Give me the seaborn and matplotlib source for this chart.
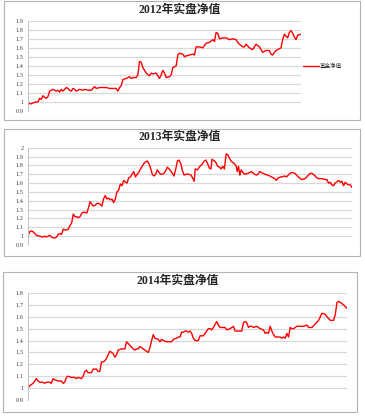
import numpy as np
import pandas as pd
import matplotlib
matplotlib.use("Agg")
import matplotlib.pyplot as plt
import seaborn as sns
from matplotlib.patches import Rectangle

# trading-day index and fund NAV
days_2012 = [0, 1, 2, 3, 5, 6, 7, 8, 9, 10,
             11, 12, 13, 14, 15, 17, 18, 19, 20, 21,
             23, 24, 25, 26, 27, 28, 29, 31, 33, 34,
             36, 38, 40, 41, 43, 45, 47, 49, 51, 53,
             54, 55, 56, 57, 59, 61, 62, 63, 65, 66,
             67, 68, 69, 70, 71, 73, 74, 75, 77, 79,
             80, 81, 82, 83, 85, 86, 87, 89, 90, 91,
             93, 94, 95, 97, 99, 100, 101, 103, 105, 107,
             109, 111, 112, 113, 114, 115, 117, 119, 121, 123,
             125, 126, 127, 129, 130, 131, 133, 135, 137, 139,
             140, 141, 143, 145, 146, 147, 148, 149, 151, 152,
             153, 154, 155, 156, 157, 158, 159, 160, 161, 162,
             164]
nav_2012 = [1.00, 0.98, 0.98, 0.99, 1.00, 1.00, 1.04, 1.03, 1.07, 1.05,
            1.04, 1.06, 1.12, 1.13, 1.14, 1.12, 1.13, 1.11, 1.14, 1.12,
            1.16, 1.15, 1.13, 1.12, 1.15, 1.14, 1.12, 1.14, 1.13, 1.14,
            1.13, 1.13, 1.17, 1.15, 1.16, 1.16, 1.16, 1.15, 1.15, 1.15,
            1.12, 1.16, 1.18, 1.25, 1.26, 1.28, 1.26, 1.27, 1.27, 1.30,
            1.45, 1.44, 1.38, 1.35, 1.32, 1.29, 1.32, 1.31, 1.32, 1.26,
            1.30, 1.35, 1.32, 1.27, 1.28, 1.30, 1.38, 1.40, 1.52, 1.54,
            1.53, 1.50, 1.51, 1.52, 1.53, 1.52, 1.61, 1.61, 1.60, 1.65,
            1.66, 1.69, 1.67, 1.77, 1.76, 1.70, 1.71, 1.71, 1.69, 1.70,
            1.69, 1.66, 1.64, 1.61, 1.61, 1.64, 1.60, 1.58, 1.64, 1.61,
            1.58, 1.55, 1.57, 1.57, 1.53, 1.52, 1.55, 1.57, 1.59, 1.60,
            1.69, 1.75, 1.73, 1.71, 1.77, 1.79, 1.76, 1.72, 1.69, 1.74,
            1.75]

days_2013 = ([0, 1, 2, 3, 4, 5, 7] + list(range(9, 100)) + [99.6]
             + list(range(101, 110)) + [109.6] + list(range(111, 125))
             + [124.6, 125.4, 126.2, 127, 128, 129, 131, 132, 133, 135,
                136, 137, 138, 139, 141, 143, 145, 147, 148, 149,
                151, 153, 154, 156, 157, 159, 161, 163, 165, 166,
                168, 169, 170, 172, 173, 175, 177, 178]
             + list(range(179, 184)) + list(range(185, 194)))
nav_2013 = [1.00, 1.05, 1.06, 1.05, 1.03, 1.01, 1.00,
            0.99, 1.00, 0.99, 1.00, 1.01, 0.99, 0.98, 0.98, 0.99, 1.02, 1.03, 1.02,
            1.08, 1.07, 1.07, 1.08, 1.12, 1.15, 1.25, 1.22, 1.22, 1.21,
            1.22, 1.26, 1.27, 1.27, 1.26, 1.32, 1.39, 1.36, 1.34, 1.35,
            1.37, 1.37, 1.36, 1.34, 1.42, 1.46, 1.42, 1.43, 1.41, 1.42,
            1.38, 1.42, 1.50, 1.52, 1.59, 1.57, 1.63, 1.61, 1.60, 1.66,
            1.67, 1.70, 1.73, 1.67, 1.70, 1.72, 1.76, 1.79, 1.82, 1.84,
            1.85, 1.82, 1.77, 1.70, 1.68, 1.70, 1.75, 1.72, 1.70, 1.70,
            1.71, 1.74, 1.78, 1.76, 1.74, 1.71, 1.68, 1.76, 1.85, 1.86,
            1.82, 1.74, 1.69, 1.70, 1.70, 1.70, 1.69, 1.66, 1.62,
            1.76,
            1.75, 1.78, 1.80, 1.82, 1.85, 1.86, 1.82, 1.77, 1.76,
            1.87,
            1.85, 1.83, 1.79, 1.78, 1.76, 1.79, 1.76, 1.93, 1.92, 1.88,
            1.85, 1.83, 1.82, 1.79,
            1.73, 1.79, 1.69, 1.75, 1.72, 1.70, 1.71, 1.72, 1.73, 1.70,
            1.69, 1.70, 1.73, 1.72, 1.70, 1.69, 1.67, 1.65, 1.63, 1.66,
            1.67, 1.68, 1.67, 1.71, 1.72, 1.71, 1.67, 1.64, 1.65, 1.67,
            1.71, 1.71, 1.70, 1.66, 1.65, 1.65, 1.64, 1.64,
            1.60, 1.61, 1.58, 1.57, 1.60,
            1.63, 1.61, 1.62, 1.57, 1.61, 1.59, 1.58, 1.58, 1.55]

days_2014 = [0, 1, 3, 4, 5, 6, 7, 9, 10, 11,
             13, 14, 15, 16, 18, 20, 21, 22, 23, 24,
             26, 28, 29, 30, 32, 33, 34, 35, 36, 38,
             39, 41, 42, 43, 44, 45, 46, 47, 49, 51,
             52, 53, 54, 56, 58, 59, 61, 63, 64, 65,
             66, 67, 69, 71, 72, 73, 74, 75, 76, 78,
             79, 80, 81, 83, 85, 86, 87, 89, 90, 91,
             92, 93, 94, 95, 96, 97, 98, 99, 100, 101,
             102, 103, 104, 105, 107, 108, 109, 110, 111, 113,
             114, 115, 117, 118, 119, 121, 123, 124, 125, 127,
             128, 129, 130, 131, 132, 133, 134, 135, 137, 138,
             139, 141, 142, 143, 144, 145, 146, 147, 148, 149,
             151, 152, 153, 154, 155, 156, 157, 158, 159, 161,
             163, 165, 167, 168, 170, 172, 174, 175, 176, 178,
             179, 181, 183, 184, 185, 186, 187, 189, 191]
nav_2014 = [1.00, 1.02, 1.04, 1.06, 1.08, 1.06, 1.05, 1.05, 1.04, 1.05,
            1.05, 1.04, 1.08, 1.07, 1.06, 1.06, 1.04, 1.05, 1.09, 1.10,
            1.09, 1.09, 1.08, 1.09, 1.08, 1.10, 1.14, 1.15, 1.13, 1.13,
            1.16, 1.16, 1.14, 1.14, 1.22, 1.22, 1.23, 1.25, 1.31, 1.29,
            1.26, 1.28, 1.32, 1.33, 1.33, 1.39, 1.36, 1.33, 1.32, 1.33,
            1.33, 1.35, 1.33, 1.31, 1.30, 1.34, 1.40, 1.45, 1.42, 1.41,
            1.39, 1.41, 1.40, 1.39, 1.39, 1.39, 1.41, 1.42, 1.43, 1.43,
            1.47, 1.47, 1.48, 1.48, 1.47, 1.48, 1.46, 1.42, 1.40, 1.40,
            1.40, 1.44, 1.44, 1.44, 1.48, 1.50, 1.50, 1.49, 1.51, 1.56,
            1.53, 1.51, 1.51, 1.51, 1.49, 1.50, 1.52, 1.48, 1.48, 1.48,
            1.48, 1.55, 1.56, 1.55, 1.51, 1.52, 1.52, 1.51, 1.52, 1.51,
            1.50, 1.49, 1.46, 1.47, 1.46, 1.52, 1.48, 1.45, 1.43, 1.43,
            1.43, 1.42, 1.43, 1.42, 1.46, 1.43, 1.51, 1.50, 1.50, 1.52,
            1.52, 1.52, 1.53, 1.51, 1.51, 1.54, 1.57, 1.60, 1.63, 1.62,
            1.60, 1.57, 1.57, 1.62, 1.72, 1.73, 1.72, 1.70, 1.67]

titles = ["2012年实盘净值", "2013年实盘净值", "2014年实盘净值"]
y_tops = [1.9, 2.0, 1.8]
legend_label = "基金净值"

sns.set_style("white")
plt.rcParams['font.family'] = ['Noto Sans CJK SC', 'DejaVu Sans']

W, H = 365, 417
fig = plt.figure(figsize=(W / 100, H / 100), dpi=100)


def px_rect(l, t, r, b):
    return [l / W, 1 - b / H, (r - l) / W, (b - t) / H]


# layout in pixels: axes box, outer frame, title centre
layout = [
    ((28, 20.7, 301, 111), (4, 1, 360, 120), (180, 10)),
    ((28, 147.7, 352, 245), (4, 129, 360, 256), (180, 137)),
    ((28, 293, 347, 400), (3, 272, 357, 412), (178, 281)),
]
series = [(days_2012, nav_2012), (days_2013, nav_2013), (days_2014, nav_2014)]

for i, ((days, nav), (axbox, frame, tpos)) in enumerate(zip(series, layout)):
    l, t, r, b = frame
    fig.patches.append(Rectangle((l / W, 1 - b / H), (r - l) / W, (b - t) / H,
                                 transform=fig.transFigure, fill=False,
                                 edgecolor="#b3b3b3", linewidth=0.8))
    ax = fig.add_axes(px_rect(*axbox))
    df = pd.DataFrame({"day": days, "nav": nav})
    ticks = np.round(np.arange(0.9, y_tops[i] + 0.001, 0.1), 1)
    for v in ticks[1:]:
        ax.axhline(v, color="#d9d9d9", linewidth=0.9, zorder=0)
    sns.lineplot(data=df, x="day", y="nav", ax=ax, color="#ff0000",
                 linewidth=1.0, estimator=None,
                 label=legend_label if i == 0 else None)
    ax.set_xlim(0, max(days))
    ax.set_ylim(0.9, y_tops[i])
    ax.set_yticks(ticks)
    ax.set_yticklabels([f"{v:g}" for v in ticks], fontsize=4.5, color="#404040",
                       family=["Liberation Serif", "DejaVu Serif"])
    ax.set_xticks([])
    ax.tick_params(axis="y", length=0, pad=3)
    ax.set_xlabel("")
    ax.set_ylabel("")
    for s in ["top", "right", "bottom"]:
        ax.spines[s].set_visible(False)
    ax.spines["left"].set_color("#bfbfbf")
    ax.spines["left"].set_linewidth(0.7)
    ax.set_facecolor("none")
    fig.text(tpos[0] / W, 1 - tpos[1] / H, titles[i], ha="center", va="center",
             fontsize=8.5, fontweight="bold", color="#262626",
             family=["Liberation Serif", "Noto Sans CJK SC"])
    if i == 0:
        ax.legend(loc="center left", bbox_to_anchor=(303 / W, 1 - 66 / H),
                  bbox_transform=fig.transFigure, frameon=False, fontsize=4,
                  handlelength=2.8, handletextpad=0.3, borderpad=0,
                  borderaxespad=0)

fig.savefig("out.png", dpi=100)
